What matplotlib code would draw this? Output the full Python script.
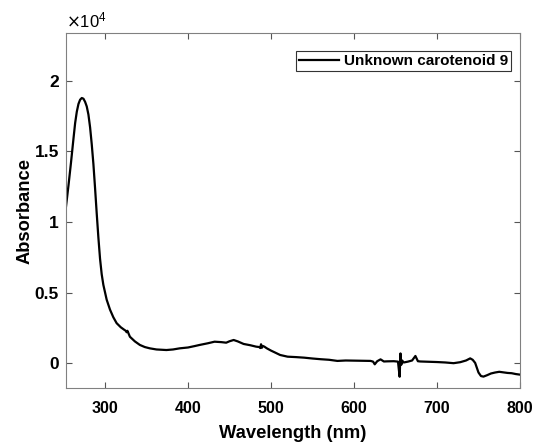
import matplotlib.pyplot as plt
from matplotlib.ticker import FuncFormatter

plt.rcParams['font.family'] = ['Liberation Sans', 'DejaVu Sans']

# spectrum (wavelength in nm, absorbance)
wavelength = [253, 256, 259, 262, 264, 266, 268, 270, 272, 274, 276, 278, 280,
              282, 284, 286, 288, 290, 292, 294, 296, 298, 302, 306, 310, 314,
              319, 323, 325, 326, 327, 330, 336, 342, 348, 354, 362, 374,
              382, 390, 400, 408, 414, 424, 432, 440, 446, 450, 455, 460, 467,
              475, 482, 486, 487, 488, 489, 490, 492, 495, 500, 505, 511, 520,
              530, 540, 550, 560, 570, 580, 590, 600, 610, 620, 623, 625, 628,
              632, 636, 640, 648, 653, 655, 656, 657, 658, 660, 665, 670, 674,
              677, 680, 690, 700, 710, 720, 728, 735, 740, 743, 746, 750, 753,
              756, 760, 765, 770, 775, 780, 785, 790, 795, 800]
absorbance = [11100, 12600, 14200, 15900, 17000, 17800, 18350, 18650, 18770,
              18720, 18500, 18170, 17600, 16700, 15500, 14100, 12400, 10600,
              8900, 7400, 6300, 5550, 4500, 3800, 3260, 2840, 2550, 2380, 2300,
              2200, 2300, 1880, 1550, 1300, 1150, 1060, 980, 940, 980, 1060,
              1120, 1220, 1300, 1420, 1530, 1500, 1460, 1560, 1650, 1550, 1370,
              1280, 1180, 1150, 1080, 1350, 1100, 1230, 1180, 1060, 900, 760,
              590, 470, 440, 400, 340, 290, 250, 170, 200, 190, 180, 170, 120,
              -70, 150, 280, 130, 140, 150, 120, -950, 700, -100, 200, 60, 120,
              200, 520, 150, 130, 110, 90, 60, 10, 80, 200, 350, 250, 30, -650,
              -900, -940, -850, -720, -650, -600, -640, -680, -700, -760, -800]

fig = plt.figure(figsize=(5.38, 4.44), dpi=100)
ax = fig.add_axes([0.1227, 0.126, 0.8438, 0.7997])

ax.plot(wavelength, absorbance, color='black', linewidth=1.6,
        label='Unknown carotenoid 9')

ax.set_xlim(253, 800)
ax.set_ylim(-1750, 23370)
ax.set_xticks([300, 400, 500, 600, 700, 800])
ax.set_yticks([0, 5000, 10000, 15000, 20000])
ax.yaxis.set_major_formatter(FuncFormatter(lambda v, p: f'{v / 1e4:g}'))
ax.tick_params(direction='in', top=True, right=True, labelsize=11.5,
               color='#555555', length=4)
ax.tick_params(axis='x', pad=9)
ax.tick_params(axis='y', labelsize=12.5, pad=5)
for lab in ax.get_xticklabels() + ax.get_yticklabels():
    lab.set_fontweight('bold')
for s in ax.spines.values():
    s.set_color('#808080')
    s.set_linewidth(0.8)

ax.text(0.0, 1.008, r'$\times\mathregular{10^{4}}$', transform=ax.transAxes,
        fontsize=12, ha='left', va='bottom')

ax.set_xlabel('Wavelength (nm)', fontsize=13.2, fontweight='bold', labelpad=7)
ax.set_ylabel('Absorbance', fontsize=13.2, fontweight='bold', labelpad=0.5)

leg = ax.legend(loc='upper right', bbox_to_anchor=(0.980, 0.949),
                borderaxespad=0, handlelength=2.6,
                fancybox=False, framealpha=1, borderpad=0.2,
                handletextpad=0.3, prop={'weight': 'bold', 'size': 11})
leg.get_frame().set_edgecolor('#333333')
leg.get_frame().set_linewidth(0.8)

fig.savefig('out.png', dpi=100)
plt.close(fig)
